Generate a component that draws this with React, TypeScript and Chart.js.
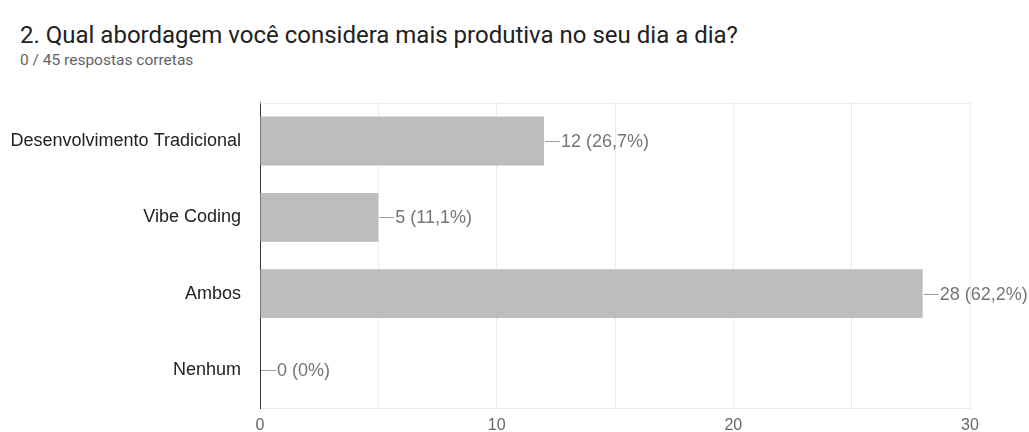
import React, { useEffect, useRef } from "react";
import { Chart, registerables } from "chart.js";

Chart.register(...registerables);

const title = "2. Qual abordagem você considera mais produtiva no seu dia a dia?";
const subtitle = "0 / 45 respostas corretas";
const categories = ["Desenvolvimento Tradicional", "Vibe Coding", "Ambos", "Nenhum"];
const counts = [12, 5, 28, 0];
const totalResponses = 45;
const xTickLabels = [0, 10, 20, 30];

function pctLabel(v: number): string {
  const p = (v / totalResponses) * 100;
  let s = p.toFixed(1);
  if (s.endsWith(".0")) s = s.slice(0, -2);
  return `${v} (${s.replace(".", ",")}%)`;
}

const valueLabelPlugin = {
  id: "valueLabels",
  afterDatasetsDraw(chart: any) {
    const ctx = chart.ctx;
    const meta = chart.getDatasetMeta(0);
    ctx.save();
    meta.data.forEach((el: any, i: number) => {
      const x = el.x;
      const y = Math.round(el.y) + 0.5;
      ctx.strokeStyle = "#9e9e9e";
      ctx.lineWidth = 1;
      ctx.beginPath();
      ctx.moveTo(x + 1, y);
      ctx.lineTo(x + 16, y);
      ctx.stroke();
      ctx.fillStyle = "#757575";
      ctx.font = "18px 'Liberation Sans', Arial, sans-serif";
      ctx.textAlign = "left";
      ctx.textBaseline = "middle";
      ctx.fillText(pctLabel(counts[i]), x + 17, el.y + 1);
    });
    ctx.restore();
  },
  beforeDatasetsDraw(chart: any) {
    const { ctx, chartArea } = chart;
    ctx.save();
    ctx.strokeStyle = "#ebebeb";
    ctx.lineWidth = 1;
    ctx.beginPath();
    ctx.moveTo(chartArea.left, chartArea.top + 0.5);
    ctx.lineTo(chartArea.right, chartArea.top + 0.5);
    ctx.stroke();
    ctx.restore();
  },
};

export default function App() {
  const canvasRef = useRef<HTMLCanvasElement | null>(null);

  useEffect(() => {
    if (!canvasRef.current) return;
    const chart = new Chart(canvasRef.current, {
      type: "bar",
      data: {
        labels: categories,
        datasets: [
          {
            data: counts,
            backgroundColor: "#bdbdbd",
            borderWidth: 0,
            barPercentage: 0.64,
            categoryPercentage: 1,
          },
        ],
      },
      options: {
        indexAxis: "y",
        animation: false,
        responsive: false,
        maintainAspectRatio: false,
        layout: { padding: { left: 0, right: 59, top: 13, bottom: 0 } },
        plugins: {
          legend: { display: false },
          tooltip: { enabled: false },
          title: { display: false },
        },
        scales: {
          x: {
            min: 0,
            max: 30,
            afterFit: (s: any) => {
              s.height = 24;
            },
            ticks: {
              stepSize: 5,
              padding: 8,
              color: "#666666",
              font: { family: "'Liberation Sans', Arial, sans-serif", size: 16 },
              maxRotation: 0,
              autoSkip: false,
              callback: (v: any) => (xTickLabels.includes(Number(v)) ? String(v) : ""),
            },
            grid: {
              drawTicks: false,
              color: (c: any) => (c.tick && c.tick.value === 0 ? "#333333" : "#ebebeb"),
            },
            border: { display: true, color: "#ebebeb" },
          },
          y: {
            afterFit: (s: any) => {
              s.width = 260;
            },
            ticks: {
              padding: 19,
              color: "#222222",
              font: { family: "'Liberation Sans', Arial, sans-serif", size: 18 },
            },
            grid: { display: false, drawTicks: false },
            border: { display: true, color: "#333333" },
          },
        },
      },
      plugins: [valueLabelPlugin],
    });
    return () => chart.destroy();
  }, []);

  return (
    <div
      style={{
        position: "absolute",
        left: 0,
        top: 0,
        width: 1029,
        height: 432,
        background: "#ffffff",
        overflow: "hidden",
      }}
    >
      <div
        style={{
          position: "absolute",
          left: 20,
          top: 20,
          fontFamily: "Roboto, sans-serif",
          fontSize: 24,
          color: "#212121",
          whiteSpace: "nowrap",
          lineHeight: "30px",
        }}
      >
        {title}
      </div>
      <div
        style={{
          position: "absolute",
          left: 20,
          top: 50,
          fontFamily: "Roboto, sans-serif",
          fontSize: 15.5,
          color: "#5f6368",
          whiteSpace: "nowrap",
          lineHeight: "20px",
        }}
      >
        {subtitle}
      </div>
      <canvas
        ref={canvasRef}
        width={1029}
        height={365}
        style={{ position: "absolute", left: 0, top: 73, width: 1029, height: 365 }}
      />
    </div>
  );
}
